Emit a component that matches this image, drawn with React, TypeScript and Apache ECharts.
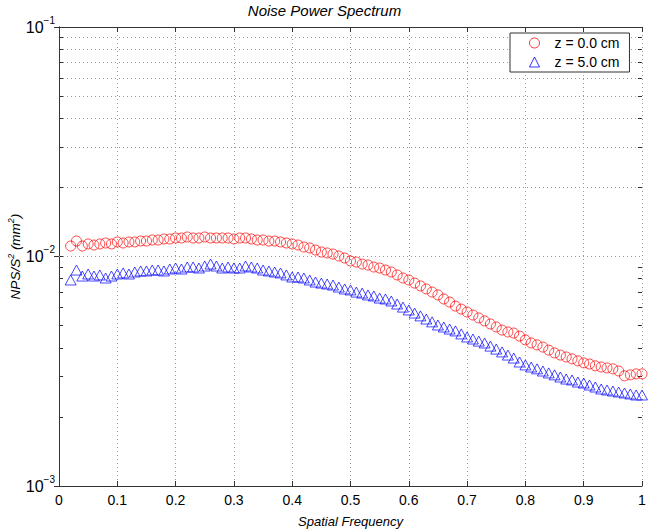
import React, { useEffect, useRef } from "react";
import * as echarts from "echarts";

const FONT = '"Liberation Sans", Arial, Helvetica, sans-serif';
const AX = "#333333";
const GRID = "#9a9a9a";

const titleText = "Noise Power Spectrum";
const xName = "Spatial Frequency";
const seriesNames = ["z = 0.0 cm", "z = 5.0 cm"];

const freq = [
  0.02, 0.03, 0.04, 0.05, 0.06, 0.07, 0.08, 0.09, 0.1, 0.11, 0.12, 0.13, 0.14, 0.15, 0.16, 0.17, 0.18, 0.19, 0.2,
  0.21, 0.22, 0.23, 0.24, 0.25, 0.26, 0.27, 0.28, 0.29, 0.3, 0.31, 0.32, 0.33, 0.34, 0.35, 0.36, 0.37, 0.38, 0.39, 0.4,
  0.41, 0.42, 0.43, 0.44, 0.45, 0.46, 0.47, 0.48, 0.49, 0.5, 0.51, 0.52, 0.53, 0.54, 0.55, 0.56, 0.57, 0.58, 0.59, 0.6,
  0.61, 0.62, 0.63, 0.64, 0.65, 0.66, 0.67, 0.68, 0.69, 0.7, 0.71, 0.72, 0.73, 0.74, 0.75, 0.76, 0.77, 0.78, 0.79, 0.8,
  0.81, 0.82, 0.83, 0.84, 0.85, 0.86, 0.87, 0.88, 0.89, 0.9, 0.91, 0.92, 0.93, 0.94, 0.95, 0.96, 0.97, 0.98, 0.99, 1.0,
];

const nps0 = [
  0.01111, 0.01168, 0.01111, 0.01134, 0.01122, 0.01134, 0.01145, 0.01134, 0.01157, 0.01145,
  0.01157, 0.01157, 0.01168, 0.01168, 0.0118, 0.0118, 0.01192, 0.01192, 0.01204, 0.01204,
  0.01216, 0.01204, 0.01204, 0.01216, 0.01204, 0.01204, 0.01204, 0.01204, 0.01192, 0.01204,
  0.01204, 0.01192, 0.0118, 0.0118, 0.01168, 0.01168, 0.01157, 0.01145, 0.01134, 0.01122,
  0.011, 0.01089, 0.01067, 0.01046, 0.01036, 0.01025, 0.01005, 0.00985, 0.00956, 0.00946,
  0.00927, 0.00918, 0.009, 0.00891, 0.00873, 0.00856, 0.00831, 0.00806, 0.0079, 0.00766,
  0.00744, 0.00722, 0.007, 0.0068, 0.00653, 0.00633, 0.00608, 0.0059, 0.00573, 0.00556,
  0.0054, 0.00524, 0.00508, 0.00493, 0.00478, 0.00469, 0.00464, 0.0045, 0.00433, 0.0042,
  0.00412, 0.00403, 0.00391, 0.0038, 0.00372, 0.00365, 0.00358, 0.00351, 0.00344, 0.0034,
  0.00334, 0.0033, 0.00327, 0.00324, 0.00317, 0.00302, 0.00305, 0.00308, 0.00308,
];

const nps5 = [
  0.0079, 0.00873, 0.00822, 0.00839, 0.00822, 0.00831, 0.00806, 0.00822, 0.00839, 0.00848,
  0.00839, 0.00856, 0.00865, 0.00865, 0.00873, 0.00873, 0.00865, 0.00882, 0.00891, 0.00882,
  0.009, 0.009, 0.00891, 0.00909, 0.00927, 0.00909, 0.00891, 0.009, 0.00891, 0.00891,
  0.00909, 0.009, 0.00891, 0.00873, 0.00865, 0.00856, 0.00848, 0.00831, 0.00814, 0.00814,
  0.00806, 0.0079, 0.00774, 0.00766, 0.00759, 0.00751, 0.00736, 0.00722, 0.00715, 0.007,
  0.00693, 0.0068, 0.00673, 0.00659, 0.00653, 0.0064, 0.00621, 0.00602, 0.00585, 0.00567,
  0.00551, 0.00534, 0.00519, 0.00503, 0.00493, 0.00483, 0.00474, 0.0046, 0.00446, 0.00437,
  0.00428, 0.0042, 0.00407, 0.00395, 0.00384, 0.00372, 0.00361, 0.00347, 0.00337, 0.0033,
  0.00324, 0.00317, 0.00311, 0.00305, 0.002985, 0.002925, 0.002897, 0.002838, 0.00281, 0.002754,
  0.0027, 0.002646, 0.00262, 0.002594, 0.002568, 0.002543, 0.002518, 0.002492, 0.002492,
];

const xMin = 0;
const xMax = 1;
const xStep = 0.1;
const yMin = 0.001;
const yMax = 0.1;
const yMinor = [
  0.002, 0.003, 0.004, 0.005, 0.006, 0.007, 0.008, 0.009,
  0.02, 0.03, 0.04, 0.05, 0.06, 0.07, 0.08, 0.09,
];

const RED = "#ff0000";
const BLUE = "#0000ff";

export default function App() {
  const ref = useRef<HTMLDivElement>(null);

  useEffect(() => {
    if (!ref.current) return;
    const chart = echarts.init(ref.current, null, { renderer: "svg" });

    const tickLen = 0.007;
    const minorTicks: any[] = [];
    yMinor.forEach((v) => {
      minorTicks.push([
        { coord: [xMin, v], lineStyle: { type: "solid", color: AX, width: 1 } },
        { coord: [xMin + tickLen, v] },
      ]);
      minorTicks.push([
        { coord: [xMax, v], lineStyle: { type: "solid", color: AX, width: 1 } },
        { coord: [xMax - tickLen, v] },
      ]);
    });
    const minorGrid = yMinor.map((v) => ({ yAxis: v }));

    const supLabel = (v: number) => {
      const e = Math.round(Math.log10(v));
      return `{b|10}{s|${e < 0 ? "\u2212" : ""}${Math.abs(e)}}`;
    };

    const commonAxisLine = { show: true, lineStyle: { color: AX, width: 1 } };

    const option: any = {
      animation: false,
      backgroundColor: "#ffffff",
      title: {
        text: titleText,
        left: "center",
        top: 3,
        padding: 0,
        textStyle: { fontFamily: FONT, fontSize: 15, fontStyle: "italic", fontWeight: "normal", color: "#000" },
      },
      legend: {
        orient: "vertical",
        left: 510,
        top: 33,
        padding: [2, 10, 2, 19],
        itemWidth: 10,
        itemHeight: 10,
        itemGap: 3,
        borderColor: AX,
        borderWidth: 1,
        backgroundColor: "#ffffff",
        textStyle: { fontFamily: FONT, fontSize: 14, color: "#000", lineHeight: 16, padding: [0, 0, 0, 10] },
        data: [
          { name: seriesNames[0], icon: "circle", itemStyle: { color: "rgba(0,0,0,0)", borderColor: RED, borderWidth: 1 } },
          { name: seriesNames[1], icon: "triangle", itemStyle: { color: "rgba(0,0,0,0)", borderColor: BLUE, borderWidth: 1 } },
        ],
      },
      grid: { left: 59, right: 7, top: 27, bottom: 45, outerBoundsMode: "none", containLabel: false },
      xAxis: [
        {
          type: "value",
          min: xMin,
          max: xMax,
          interval: xStep,
          position: "bottom",
          name: xName,
          nameLocation: "middle",
          nameGap: 29,
          nameMoveOverlap: false,
          nameTextStyle: { fontFamily: FONT, fontSize: 13, fontStyle: "italic", color: "#000" },
          axisLine: commonAxisLine,
          axisTick: { show: true, inside: true, length: 5, lineStyle: { color: AX } },
          axisLabel: {
            fontFamily: FONT,
            fontSize: 14,
            color: "#000",
            margin: 7,
            formatter: (v: number) => String(Math.round(v * 10) / 10),
          },
          splitLine: { show: true, lineStyle: { color: GRID, type: [1, 3], width: 1 } },
        },
        {
          type: "value",
          min: xMin,
          max: xMax,
          interval: xStep,
          position: "top",
          axisLine: commonAxisLine,
          axisTick: { show: true, inside: true, length: 5, lineStyle: { color: AX } },
          axisLabel: { show: false },
          splitLine: { show: false },
        },
      ],
      yAxis: [
        {
          type: "log",
          logBase: 10,
          min: yMin,
          max: yMax,
          position: "left",
          name: "{i|NPS/S}{s|2}{i| (mm}{s|2}{i|)}",
          nameLocation: "middle",
          nameGap: 35,
          nameMoveOverlap: false,
          nameTextStyle: {
            rich: {
              i: { fontFamily: FONT, fontSize: 13.5, fontStyle: "italic", color: "#000", lineHeight: 18 },
              s: { fontFamily: FONT, fontSize: 9, fontStyle: "italic", color: "#000", lineHeight: 9, verticalAlign: "top" },
            },
          },
          axisLine: commonAxisLine,
          axisTick: { show: true, inside: true, length: 5, lineStyle: { color: AX } },
          axisLabel: {
            margin: 4,
            formatter: supLabel,
            rich: {
              b: { fontFamily: FONT, fontSize: 16, color: "#000", lineHeight: 24 },
              s: { fontFamily: FONT, fontSize: 10, color: "#000", lineHeight: 10, verticalAlign: "top" },
            },
          },
          splitLine: { show: true, lineStyle: { color: GRID, type: [1, 3], width: 1 } },
        },
        {
          type: "log",
          logBase: 10,
          min: yMin,
          max: yMax,
          position: "right",
          axisLine: commonAxisLine,
          axisTick: { show: true, inside: true, length: 5, lineStyle: { color: AX } },
          axisLabel: { show: false },
          splitLine: { show: false },
        },
      ],
      series: [
        {
          name: seriesNames[0],
          type: "scatter",
          xAxisIndex: 0,
          yAxisIndex: 0,
          symbol: "circle",
          symbolSize: 10,
          itemStyle: { color: "rgba(0,0,0,0)", borderColor: RED, borderWidth: 0.9 },
          data: freq.map((f, i) => [f, nps0[i]]),
          z: 3,
          markLine: {
            silent: true,
            symbol: "none",
            label: { show: false },
            lineStyle: { color: GRID, type: [1, 3], width: 1 },
            data: [...minorGrid, ...minorTicks],
            z: 1,
          },
        },
        {
          name: seriesNames[1],
          type: "scatter",
          xAxisIndex: 0,
          yAxisIndex: 0,
          symbol: "triangle",
          symbolSize: [11, 10],
          itemStyle: { color: "rgba(0,0,0,0)", borderColor: BLUE, borderWidth: 0.9 },
          data: freq.map((f, i) => [f, nps5[i]]),
          z: 3,
        },
      ],
    };

    chart.setOption(option);
    return () => chart.dispose();
  }, []);

  return (
    <div
      ref={ref}
      style={{ position: "absolute", left: 0, top: 0, width: 649, height: 531, background: "#fff" }}
    />
  );
}
